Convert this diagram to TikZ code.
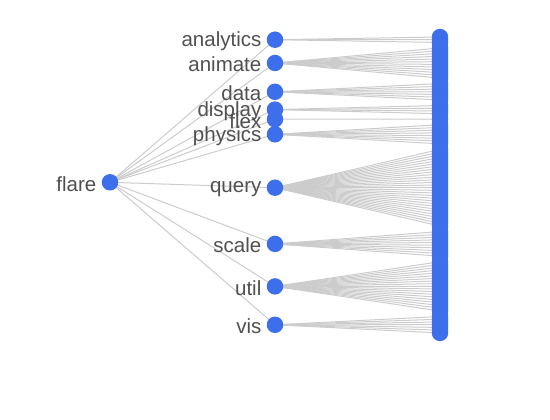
\documentclass[tikz,border=0pt]{standalone}
\usepackage{fontspec}
\setmainfont{Liberation Sans}
\usepackage{tikz}
\usetikzlibrary{backgrounds}
\definecolor{treeBlue}{HTML}{3D6FEC}
\definecolor{treeGray}{HTML}{CCCCCC}
\definecolor{treeText}{HTML}{505050}

\begin{document}
\begin{tikzpicture}[x=1pt,y={(0pt,-1pt)},
    dot/.style={circle,fill=treeBlue,inner sep=0pt,minimum size=16.5pt},
    leaf/.style={circle,fill=treeBlue,inner sep=0pt,minimum size=16.5pt},
    lbl/.style={text=treeText,inner sep=0pt,label distance=5pt,yshift=-1.5pt,font=\fontsize{20.5}{24}\selectfont},
    edge/.style={draw=treeGray,line width=1pt}]
    \useasboundingbox (0,0) rectangle (550,420);
    % root and first level
    \node[dot,label={[lbl]left:flare}] (flare) at (110,182.3) {};
    \node[dot,label={[lbl]left:analytics}] (analytics) at (275,39.7) {};
    \node[dot,label={[lbl]left:animate}] (animate) at (275,63.0) {};
    \node[dot,label={[lbl]left:data}] (data) at (275,91.8) {};
    \node[dot,label={[lbl]left:display}] (display) at (275,109.6) {};
    \node[dot,label={[lbl]left:flex}] (flex) at (275,119.2) {};
    \node[dot,label={[lbl]left:physics}] (physics) at (275,134.3) {};
    \node[dot,label={[lbl]left:query}] (query) at (275,187.7) {};
    \node[dot,label={[lbl]left:scale}] (scale) at (275,243.9) {};
    \node[dot,label={[lbl]left:util}] (util) at (275,286.4) {};
    \node[dot,label={[lbl]left:vis}] (vis) at (275,324.8) {};
    % leaves, stacked
    \foreach \grp/\first/\num in {analytics/0/3,animate/4/12,data/17/7,display/25/4,flex/30/1,
        physics/32/8,query/41/29,scale/71/10,util/82/19,vis/102/7} {
      \foreach \k in {1,...,\num}
        \node[leaf] (\grp-\k) at (440,{37+2.74*(\first+\k-1)}) {};
    }
    \begin{scope}[on background layer]
      \foreach \grp in {analytics,animate,data,display,flex,physics,query,scale,util,vis}
        \draw[edge] (flare.center)--(\grp.center);
      \foreach \grp/\num in {analytics/3,animate/12,data/7,display/4,flex/1,
          physics/8,query/29,scale/10,util/19,vis/7} {
        \foreach \k in {1,...,\num}
          \draw[edge] (\grp.center)--(\grp-\k.center);
      }
    \end{scope}
  \end{tikzpicture}
\end{document}
